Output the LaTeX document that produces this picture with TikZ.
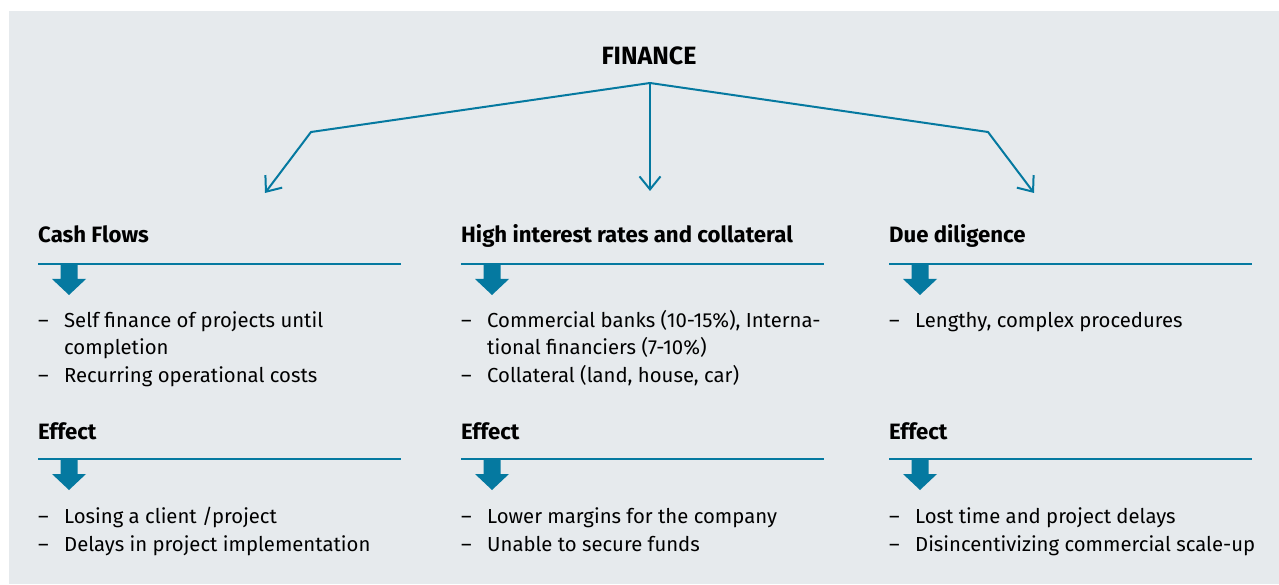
\documentclass[tikz,border=0pt]{standalone}
\usepackage{fontspec}
\setmainfont{Fira Sans}
\usetikzlibrary{arrows.meta}
\definecolor{bggrey}{HTML}{E6EAED}
\definecolor{fteal}{HTML}{0579A0}
\newcommand{\dashitem}{\makebox[26pt][l]{–}}
\newcommand{\dashgap}{\hspace*{26pt}}

\begin{document}
\begin{tikzpicture}[x=1pt, y=-1pt,
    head/.style={anchor=base west, inner sep=0pt,
                 font=\bfseries\fontsize{22.2}{24}\selectfont},
    items/.style={anchor=base west, inner sep=0pt, align=left,
                  font=\fontsize{20.3}{27.5}\selectfont},
    link/.style={fteal, line width=2pt,
                 -{Straight Barb[length=13pt, width=21pt, line width=2pt]}},
    splitter/.pic={
      \draw[fteal, line width=2.2pt] (0,0) -- (363,0);
      \fill[fteal] (22.5,0) -- (39.5,0) -- (39.5,15) -- (48,15) -- (31,31)
                   -- (14,15) -- (22.5,15) -- cycle;
    }]
    \useasboundingbox (0,0) rectangle (1279,585);
    \fill[bggrey] (9,11) rectangle (1279,584);

    \node[anchor=base, inner sep=0pt,
          font=\bfseries\fontsize{25}{28}\selectfont] (fin) at (649,65) {FINANCE};
    \coordinate (hub) at (650,83);
    \coordinate (lbend) at (311,132);
    \coordinate (ltip) at (265,193);
    \coordinate (mtip) at (650,191);
    \coordinate (rbend) at (988,132);
    \coordinate (rtip) at (1034,193);
    \draw[link] (hub) -- (lbend) -- (ltip);
    \draw[link] (hub) -- (mtip);
    \draw[link] (hub) -- (rbend) -- (rtip);

    % causes (lists sit on their last line)
    \node[head] (cash) at (38,243) {Cash Flows};
    \node[head] (rates) at (461,243) {High interest rates and collateral};
    \node[head] (dilig) at (889,243) {Due diligence};
    \pic at (38,264) {splitter};
    \pic at (461,264) {splitter};
    \pic at (889,264) {splitter};
    \node[items] (cashlist) at (38,382)
      {\dashitem Self finance of projects until\\
       \dashgap completion\\
       \dashitem Recurring operational costs};
    \node[items] (rateslist) at (461,382)
      {\dashitem Commercial banks (10-15\%), Interna-\\
       \dashgap tional financiers (7-10\%)\\
       \dashitem Collateral (land, house, car)};
    \node[items] (diliglist) at (889,327)
      {\dashitem Lengthy, complex procedures};

    % effects
    \node[head] (cashfx) at (38,439) {Effect};
    \node[head] (ratesfx) at (461,439) {Effect};
    \node[head] (diligfx) at (889,439) {Effect};
    \pic at (38,459) {splitter};
    \pic at (461,459) {splitter};
    \pic at (889,459) {splitter};
    \node[items] (cashfxlist) at (38,551)
      {\dashitem Losing a client /project\\
       \dashitem Delays in project implementation};
    \node[items] (ratesfxlist) at (461,551)
      {\dashitem Lower margins for the company\\
       \dashitem Unable to secure funds};
    \node[items] (diligfxlist) at (889,551)
      {\dashitem Lost time and project delays\\
       \dashitem Disincentivizing commercial scale-up};
\end{tikzpicture}
\end{document}
